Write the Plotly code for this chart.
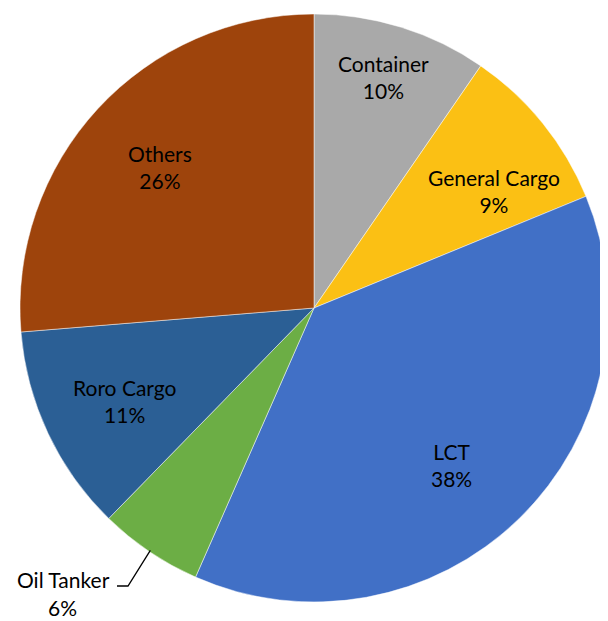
import math
import plotly.graph_objects as go

labels = ["Container", "General Cargo", "LCT", "Oil Tanker", "Roro Cargo", "Others"]
values = [9.6, 9.2, 37.8, 5.7, 11.4, 26.3]
colors = ["#A9A9A9", "#FBC014", "#4170C6", "#6CAE45", "#2B5F95", "#9E440C"]

# label placement (style only): radius fraction and angle nudge in degrees
label_r = [0.82, 0.73, 0.71, None, 0.72, 0.71]
label_nudge = [-0.5, 6.0, 3.0, 0.0, -1.0, 0.0]

# The page body has an 8px margin, so the figure is sized to fit the window
W, H = 600, 613
dom_x = [12 / W, 1.0]
dom_y = [1 - 594 / H, 1 - 6 / H]
FONT = "Lato"
FS = 21

fig = go.Figure(go.Pie(
    labels=labels,
    values=values,
    sort=False,
    direction="clockwise",
    rotation=0,
    marker=dict(colors=colors, line=dict(color="rgba(255,255,255,0.6)", width=0.8)),
    textinfo="none",
    hoverinfo="label+percent",
    domain=dict(x=dom_x, y=dom_y),
    showlegend=False,
))

total = sum(values)
dw = (dom_x[1] - dom_x[0]) * W
dh = (dom_y[1] - dom_y[0]) * H
r = min(dw, dh) / 2
cx = (dom_x[0] + dom_x[1]) / 2 * W
cy = (1 - (dom_y[0] + dom_y[1]) / 2) * H


def px(x):
    return x / W


def py(y):
    return 1 - y / H


def pct(v):
    return f"{round(v / total * 100)}%"


cum = 0.0
mids = []
for v in values:
    mids.append((cum + v / 2) / total * 360.0)
    cum += v

for i, lab in enumerate(labels):
    if label_r[i] is None:
        continue
    a = math.radians(mids[i] + label_nudge[i])
    lx = cx + r * label_r[i] * math.sin(a)
    ly = cy - r * label_r[i] * math.cos(a)
    fig.add_annotation(
        x=px(lx), y=py(ly), xref="paper", yref="paper",
        xanchor="center", yanchor="middle",
        text=f"{lab}<br>{pct(values[i])}",
        showarrow=False,
        font=dict(family=FONT, size=FS, color="#000000"),
    )

# Outside label for the small slice; the leader starts at the slice's mid-angle
idx = labels.index("Oil Tanker")
mid = math.radians(mids[idx])
ex = cx + r * 0.995 * math.sin(mid)
ey = cy - r * 0.995 * math.cos(mid)
kx, ky = 120, 578   # elbow of the leader line (figure pixels)
hx = 109            # end of the horizontal tick

fig.add_shape(
    type="path",
    xref="paper", yref="paper",
    path=f"M {px(ex)},{py(ey)} L {px(kx)},{py(ky)} L {px(hx)},{py(ky)}",
    line=dict(color="#000000", width=1.3),
)
fig.add_annotation(
    x=px(104), y=py(571),
    xref="paper", yref="paper",
    xanchor="right", yanchor="middle",
    text=labels[idx],
    showarrow=False,
    font=dict(family=FONT, size=FS, color="#000000"),
)
fig.add_annotation(
    x=px(54), y=py(599),
    xref="paper", yref="paper",
    xanchor="center", yanchor="middle",
    text=pct(values[idx]),
    showarrow=False,
    font=dict(family=FONT, size=FS, color="#000000"),
)

fig.update_layout(
    width=W,
    height=H,
    margin=dict(l=0, r=0, t=0, b=0),
    paper_bgcolor="white",
    plot_bgcolor="white",
)

fig.write_html("out.html")
